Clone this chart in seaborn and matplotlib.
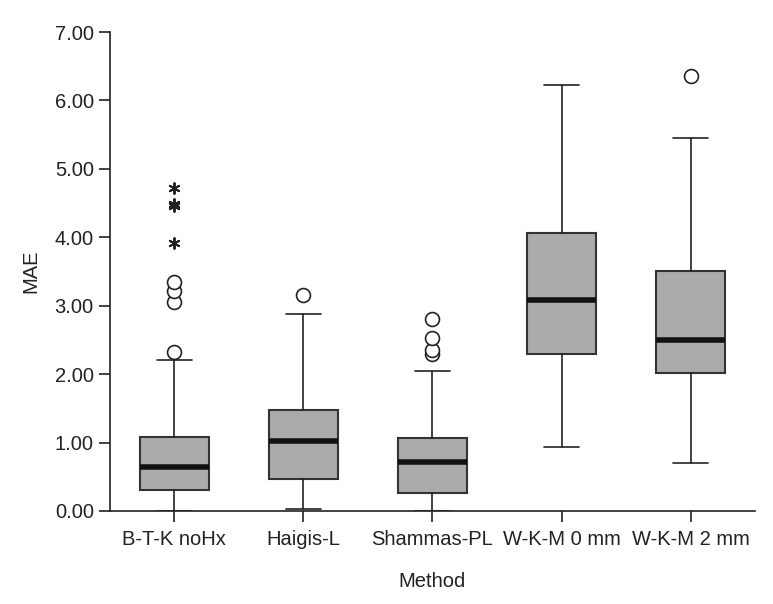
import matplotlib
matplotlib.use("Agg")
import matplotlib.pyplot as plt
import seaborn as sns

# summary values
methods = ["B-T-K noHx", "Haigis-L", "Shammas-PL", "W-K-M 0 mm", "W-K-M 2 mm"]
q1 = [0.30, 0.47, 0.26, 2.30, 2.01]
median = [0.65, 1.02, 0.71, 3.08, 2.50]
q3 = [1.08, 1.47, 1.07, 4.06, 3.50]
whisker_low = [0.00, 0.03, 0.00, 0.93, 0.70]
whisker_high = [2.21, 2.88, 2.05, 6.22, 5.45]
outliers = [[2.33, 3.05, 3.22, 3.35], [3.15], [2.30, 2.35, 2.53, 2.80], [], [6.35]]
extremes = [[3.92, 4.45, 4.48, 4.72], [], [], [], []]

sns.set_style("ticks")
plt.rcParams["font.family"] = ["Liberation Sans", "DejaVu Sans"]

fig = plt.figure(figsize=(7.73, 6.04), dpi=100)
ax = fig.add_axes([0.142, 0.154, 0.835, 0.793])

stats = []
for i, m in enumerate(methods):
    stats.append({"label": m, "q1": q1[i], "med": median[i], "q3": q3[i],
                  "whislo": whisker_low[i], "whishi": whisker_high[i],
                  "fliers": outliers[i]})

ax.bxp(stats, positions=range(len(methods)), widths=0.53, patch_artist=True,
       boxprops=dict(facecolor="#ababab", edgecolor="#333333", linewidth=1.5),
       medianprops=dict(color="#111111", linewidth=4),
       whiskerprops=dict(color="#222222", linewidth=1.2),
       capprops=dict(color="#222222", linewidth=1.2),
       capwidths=0.27,
       flierprops=dict(marker="o", markerfacecolor="white", markeredgecolor="#222222",
                       markersize=10, markeredgewidth=1.2))

# extreme values drawn as stars
ex_x = [i for i, vals in enumerate(extremes) for _ in vals]
ex_y = [v for vals in extremes for v in vals]
sns.scatterplot(x=ex_x, y=ex_y, marker=(6, 2, 0), s=60, color="#222222",
                linewidth=1.4, edgecolor="#222222", ax=ax, zorder=5)

ax.set_xlim(-0.5, 4.5)
ax.set_ylim(0, 7)
ax.set_yticks([0, 1, 2, 3, 4, 5, 6, 7])
ax.set_yticklabels([f"{v:.2f}" for v in range(8)])
ax.set_xticks(range(len(methods)))
ax.set_xticklabels(methods)
ax.tick_params(axis="both", labelsize=14.5, length=8, width=1.2, color="#222222",
               labelcolor="#222222")
ax.tick_params(axis="x", pad=6)
for s in ["top", "right"]:
    ax.spines[s].set_visible(False)
for s in ["left", "bottom"]:
    ax.spines[s].set_linewidth(1.2)
    ax.spines[s].set_color("#222222")
ax.set_ylabel("MAE", fontsize=14.5, color="#222222", labelpad=10)
ax.set_xlabel("Method", fontsize=14.5, color="#222222", labelpad=16)

fig.savefig("out.png", dpi=100)
